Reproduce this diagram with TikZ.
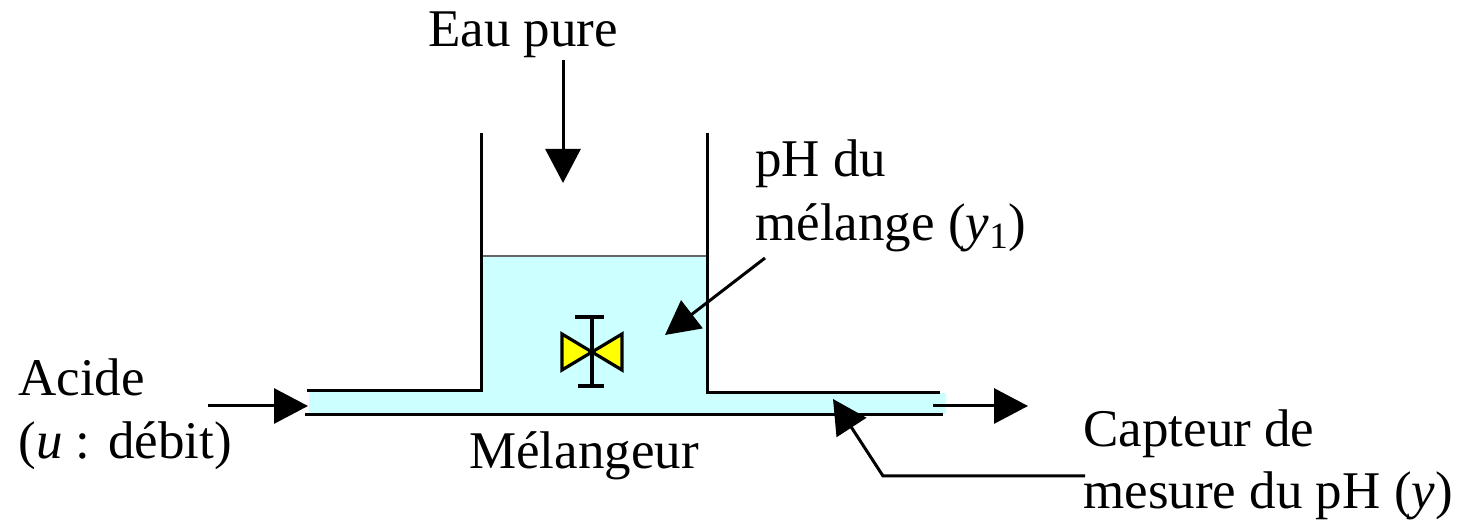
\documentclass[tikz,border=0pt]{standalone}
\usepackage{fontspec}
\setmainfont{Liberation Serif}
\usetikzlibrary{arrows.meta}
\definecolor{liquid}{HTML}{CCFFFF}
\definecolor{valvey}{HTML}{FFFF00}
\begin{document}
\begin{tikzpicture}[x=0.5pt,y=-0.5pt,
  wall/.style={line width=1.5pt},
  valveline/.style={line width=1.6pt},
  bigarrow/.style={line width=1.5pt,-{Triangle[length=17pt,width=17.5pt]}},
  lbl/.style={font=\fontsize{26.5}{31.5}\selectfont,inner sep=0pt}]
\useasboundingbox (0,0) rectangle (1459,522);
% liquid
\fill[liquid] (481,256) rectangle (707,415);
\fill[liquid] (309,391) rectangle (481,414);
\fill[liquid] (707,393) rectangle (946,414);
\draw[line width=1.1pt,black!60] (481,256) -- (707,256);
% tank walls
\draw[wall] (481,133) -- (481,391) -- (307,391);
\draw[wall] (707,133) -- (707,393) -- (940,393);
\draw[wall] (305,415) -- (943,415);
% valve
\draw[valveline,fill=valvey] (562,334) -- (562,370) -- (592,352) -- cycle;
\draw[valveline,fill=valvey] (622,334) -- (622,370) -- (592,352) -- cycle;
\draw[valveline] (592,317) -- (592,386);
\draw[valveline] (575,317) -- (604,317);
\draw[valveline] (578,386) -- (604,386);
% texts
\node[lbl,anchor=base] (eau) at (523,47) {Eau pure};
\node[lbl,anchor=base west] (ph1) at (755,177) {pH du};
\node[lbl,anchor=base west] (ph2) at (755,241) {mélange (\textit{y}\textsubscript{1})};
\node[lbl,anchor=base west] (acide) at (18,396) {Acide};
\node[lbl,anchor=base west] (debit) at (18,459) {(\textit{u} : débit)};
\node[lbl,anchor=base] (mel) at (584,469) {Mélangeur};
\node[lbl,anchor=base west] (cap1) at (1083,447) {Capteur de};
\node[lbl,anchor=base west] (cap2) at (1083,509) {mesure du pH (\textit{y})};
% arrows
\coordinate (eauS) at (563,60);
\coordinate (eauE) at (563,183);
\draw[bigarrow] (eauS) -- (eauE);
\coordinate (acS) at (208,406);
\coordinate (acE) at (308,406);
\draw[bigarrow] (acS) -- (acE);
\coordinate (outS) at (933,406);
\coordinate (outE) at (1028,406);
\draw[bigarrow] (outS) -- (outE);
\coordinate (phS) at (765,258);
\coordinate (phE) at (665,335);
\draw[bigarrow] (phS) -- (phE);
\coordinate (capS) at (1085,476);
\coordinate (capM) at (883,476);
\coordinate (capE) at (833,399);
\draw[bigarrow] (capS) -- (capM) -- (capE);
\end{tikzpicture}
\end{document}
